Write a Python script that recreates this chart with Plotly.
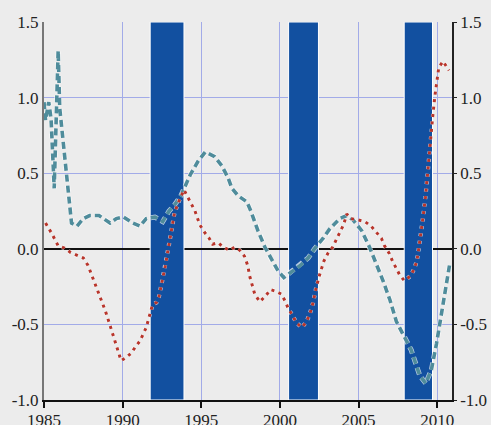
import plotly.graph_objects as go

# Recession periods (start, end) in years
rec_start = [1991.75, 2000.55, 2007.9]
rec_end = [1993.9, 2002.45, 2009.7]

# Dashed teal series
teal_x = [1985.0, 1985.1, 1985.3, 1985.45, 1985.65, 1985.9, 1986.0, 1986.65, 1986.75, 1987.1,
          1987.5, 1987.9, 1988.5, 1989.2, 1989.6, 1990.05, 1990.65, 1991.1, 1991.5, 1992.05,
          1992.55, 1992.95, 1993.3, 1993.7, 1994.0, 1994.3, 1994.8, 1995.25, 1995.85, 1996.3,
          1996.7, 1996.95, 1997.35, 1997.9, 1998.15, 1998.6, 1999.05, 1999.5, 1999.9, 2000.25,
          2000.75, 2001.3, 2001.8, 2002.2, 2002.75, 2003.15, 2003.8, 2004.25, 2004.65, 2005.2,
          2005.7, 2006.15, 2006.55, 2007.0, 2007.4, 2007.95, 2008.35, 2008.7, 2008.9, 2009.27,
          2009.63, 2009.95, 2010.27, 2010.58, 2010.78]
teal_y = [0.97, 0.85, 0.97, 0.86, 0.40, 1.31, 0.93, 0.22, 0.17, 0.15,
          0.20, 0.22, 0.22, 0.17, 0.20, 0.21, 0.17, 0.15, 0.20, 0.21,
          0.18, 0.25, 0.29, 0.35, 0.42, 0.49, 0.58, 0.64, 0.61, 0.55,
          0.47, 0.40, 0.35, 0.31, 0.25, 0.12, 0.01, -0.08, -0.15, -0.19,
          -0.15, -0.11, -0.06, 0.00, 0.07, 0.13, 0.20, 0.22, 0.19, 0.12,
          0.01, -0.10, -0.21, -0.34, -0.48, -0.59, -0.67, -0.78, -0.84, -0.89,
          -0.80, -0.63, -0.43, -0.25, -0.11]

# Dotted red series
red_x = [1985.1, 1985.5, 1985.9, 1986.3, 1986.7, 1987.1, 1987.5, 1987.8, 1988.1, 1988.5,
         1988.9, 1989.3, 1989.6, 1989.9, 1990.2, 1990.55, 1990.8, 1991.1, 1991.5, 1991.8,
         1991.9, 1992.15, 1992.3, 1992.5, 1992.7, 1992.95, 1993.1, 1993.3, 1993.6, 1993.9,
         1994.1, 1994.35, 1994.6, 1994.9, 1995.2, 1995.5, 1995.72, 1996.08, 1996.4, 1996.8,
         1997.1, 1997.45, 1997.75, 1997.95, 1998.1, 1998.4, 1998.72, 1999.1, 1999.4, 1999.7,
         2000.1, 2000.35, 2000.55, 2000.8, 2001.05, 2001.4, 2001.7, 2001.9, 2002.1, 2002.3,
         2002.5, 2002.8, 2003.05, 2003.35, 2003.6, 2003.8, 2004.05, 2004.25, 2004.5, 2005.0,
         2005.4, 2005.8, 2006.15, 2006.45, 2006.65, 2006.95, 2007.15, 2007.4, 2007.6, 2007.9,
         2008.3, 2008.55, 2008.7, 2008.8, 2008.95, 2009.1, 2009.25, 2009.4, 2009.55, 2009.7,
         2009.85, 2010.0, 2010.1, 2010.37, 2010.75]
red_y = [0.17, 0.10, 0.02, 0.005, -0.025, -0.045, -0.06, -0.11, -0.19, -0.30,
         -0.41, -0.54, -0.64, -0.74, -0.72, -0.69, -0.65, -0.61, -0.52, -0.41,
         -0.37, -0.355, -0.32, -0.22, -0.12, 0.03, 0.12, 0.24, 0.32, 0.39,
         0.35, 0.30, 0.25, 0.16, 0.11, 0.07, 0.03, 0.04, 0.01, -0.01,
         0.01, -0.01, -0.05, -0.11, -0.19, -0.30, -0.35, -0.31, -0.27, -0.28,
         -0.30, -0.35, -0.40, -0.44, -0.49, -0.52, -0.48, -0.43, -0.36, -0.26,
         -0.18, -0.08, -0.03, 0.01, 0.06, 0.11, 0.16, 0.23, 0.20, 0.19,
         0.18, 0.15, 0.11, 0.07, 0.02, -0.03, -0.08, -0.13, -0.17, -0.21,
         -0.18, -0.13, -0.08, -0.02, 0.08, 0.21, 0.34, 0.52, 0.71, 0.86,
         1.01, 1.14, 1.20, 1.24, 1.18]

x_ticks = [1985, 1990, 1995, 2000, 2005, 2010]
y_ticks = [-1.0, -0.5, 0.0, 0.5, 1.0, 1.5]
y_ticktext = ["-1.0", "-0.5", "0.0", "0.5", "1.0", "1.5"]

BG = "#ececec"
GRID = "#a2abe8"
BAR = "#1250a0"
TEAL = "#4f8c9b"
RED = "#b8352b"
FONT = dict(family="Liberation Serif, DejaVu Serif, serif", size=17, color="#222222")

fig = go.Figure()

# white halos under lines
fig.add_trace(go.Scatter(x=teal_x, y=teal_y, mode="lines", hoverinfo="skip", showlegend=False,
                         line=dict(color="rgba(255,255,255,0.7)", width=5, dash="7px,4px")))
fig.add_trace(go.Scatter(x=teal_x, y=teal_y, mode="lines", showlegend=False,
                         line=dict(color=TEAL, width=3.6, dash="7px,4px")))
fig.add_trace(go.Scatter(x=red_x, y=red_y, mode="lines", hoverinfo="skip", showlegend=False,
                         line=dict(color="rgba(255,255,255,0.7)", width=4.2, dash="3px,4.5px")))
fig.add_trace(go.Scatter(x=red_x, y=red_y, mode="lines", showlegend=False,
                         line=dict(color=RED, width=3, dash="3px,4.5px")))
# invisible trace for the right axis
fig.add_trace(go.Scatter(x=[1985], y=[0], yaxis="y2", mode="markers", showlegend=False,
                         marker=dict(opacity=0), hoverinfo="skip"))

for s, e in zip(rec_start, rec_end):
    fig.add_shape(type="rect", xref="x", yref="y", x0=s, x1=e, y0=-1.0, y1=1.5,
                  fillcolor=BAR, line=dict(color="white", width=1), layer="between")

fig.update_layout(
    width=491, height=425,
    autosize=False,
    margin=dict(l=44, r=39, t=22, b=25, autoexpand=False),
    paper_bgcolor=BG, plot_bgcolor=BG,
    font=FONT,
    showlegend=False,
    xaxis=dict(range=[1985, 2010.94], tickvals=x_ticks, showgrid=True, gridcolor=GRID, gridwidth=1,
               zeroline=False, showline=True, linecolor="#111111", linewidth=1.5, automargin=False,
               ticks="outside", ticklen=6, tickcolor="#111111", tickwidth=1.5, tickfont=FONT,
               ticklabelstandoff=-2),
    yaxis=dict(range=[-1.0, 1.5], tickvals=y_ticks, ticktext=y_ticktext, showgrid=True, automargin=False,
               gridcolor=GRID, gridwidth=1, zeroline=True, zerolinecolor="#111111", zerolinewidth=1.5,
               showline=True, linecolor="#777777", linewidth=2, ticks="", tickfont=FONT),
    yaxis2=dict(range=[-1.0, 1.5], tickvals=y_ticks, ticktext=y_ticktext, overlaying="y", side="right",
                showgrid=False, zeroline=False, showline=True, linecolor="#222222", linewidth=1.5,
                automargin=False, ticks="outside", ticklen=3, tickcolor="#222222", tickfont=FONT),
)

fig.write_html("out.html", config={"displayModeBar": False},
               post_script="document.body.style.margin='0';document.body.style.overflow='hidden';"
                           "document.body.style.background='#ececec';")
